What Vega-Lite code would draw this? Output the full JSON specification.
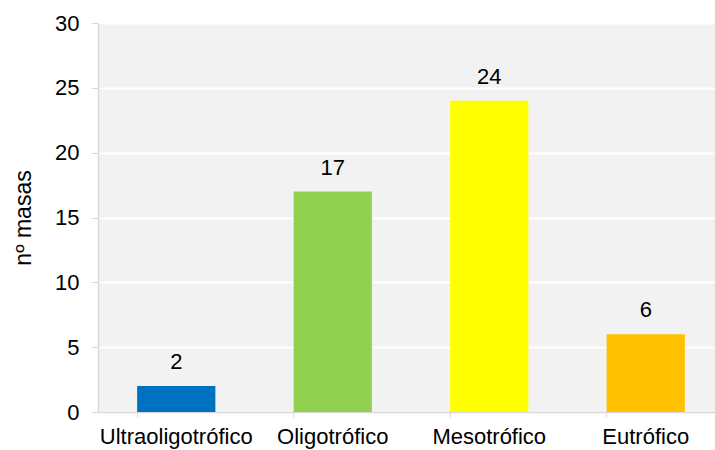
{
  "$schema": "https://vega.github.io/schema/vega-lite/v6.json",
  "autosize": {"type": "none"},
  "padding": {"left": 98, "top": 23, "right": 0, "bottom": 38},
  "width": 617,
  "height": 389,
  "background": "white",
  "config": {
    "view": {"fill": "#f2f2f2", "stroke": null},
    "font": "Liberation Sans"
  },
  "data": {
    "values": [
      {"estado": "Ultraoligotrófico", "n": 2},
      {"estado": "Oligotrófico", "n": 17},
      {"estado": "Mesotrófico", "n": 24},
      {"estado": "Eutrófico", "n": 6}
    ]
  },
  "encoding": {
    "x": {
      "field": "estado",
      "type": "nominal",
      "sort": null,
      "scale": {"range": [0, 626], "paddingInner": 0.5, "paddingOuter": 0.25},
      "axis": {
        "title": null,
        "labelAngle": 0,
        "labelFontSize": 22,
        "labelColor": "#000000",
        "labelPadding": 9,
        "domainColor": "#d9d9d9",
        "domainWidth": 1.5,
        "tickColor": "#d9d9d9",
        "tickSize": 5,
        "bandPosition": 0,
        "grid": false
      }
    },
    "y": {
      "field": "n",
      "type": "quantitative",
      "scale": {"domain": [0, 30], "nice": false},
      "axis": {
        "title": "nº masas",
        "titleFontSize": 23,
        "titleFontWeight": "normal",
        "titleColor": "#000000",
        "titlePadding": 19,
        "values": [0, 5, 10, 15, 20, 25, 30],
        "labelFontSize": 22,
        "labelColor": "#000000",
        "labelPadding": 12,
        "tickSize": 7,
        "tickColor": "#d9d9d9",
        "domainColor": "#d9d9d9",
        "domainWidth": 1.5,
        "grid": true,
        "gridColor": "#ffffff",
        "gridWidth": 2
      }
    }
  },
  "layer": [
    {
      "mark": {"type": "bar"},
      "encoding": {
        "color": {
          "field": "estado",
          "type": "nominal",
          "sort": null,
          "scale": {
            "domain": ["Ultraoligotrófico", "Oligotrófico", "Mesotrófico", "Eutrófico"],
            "range": ["#0070c0", "#92d050", "#ffff00", "#ffc000"]
          },
          "legend": null
        }
      }
    },
    {
      "mark": {"type": "text", "baseline": "bottom", "dy": -12, "fontSize": 22, "color": "#000000"},
      "encoding": {"text": {"field": "n", "type": "quantitative"}}
    }
  ]
}
